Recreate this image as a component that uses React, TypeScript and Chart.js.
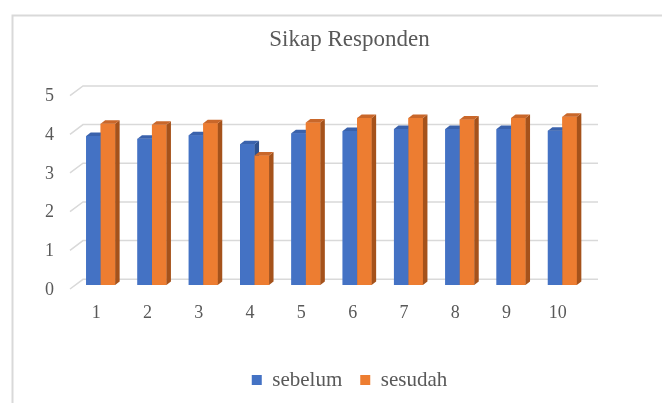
import React, { useEffect, useRef } from "react";
import { Chart, registerables } from "chart.js";

Chart.register(...registerables);

const categories = ["1", "2", "3", "4", "5", "6", "7", "8", "9", "10"];
const sebelum = [3.85, 3.78, 3.87, 3.64, 3.92, 3.98, 4.03, 4.03, 4.03, 3.99];
const sesudah = [4.17, 4.14, 4.18, 3.35, 4.2, 4.32, 4.32, 4.28, 4.32, 4.35];
const seriesNames = ["sebelum", "sesudah"];
const yTicks = [0, 1, 2, 3, 4, 5];
const chartTitle = "Sikap Responden";

const FONT = '"Liberation Serif", "Times New Roman", serif';
const TEXT = "#595959";
const GRID = "#d9d9d9";
const faces = [
  { front: "#4472C4", side: "#2F528F", top: "#3A62AC" },
  { front: "#ED7D31", side: "#A5521B", top: "#C9672A" },
];

const CW = 683;
const CH = 395;

const framePlugin = {
  id: "frame",
  beforeDraw(chart: any) {
    const ctx = chart.ctx;
    ctx.save();
    ctx.strokeStyle = GRID;
    ctx.lineWidth = 2;
    ctx.strokeRect(4.5, 7.5, 1000, 1000);
    ctx.restore();
  },
};

const grid3dPlugin = {
  id: "grid3d",
  beforeDatasetsDraw(chart: any) {
    const { ctx, chartArea } = chart;
    const ys = chart.scales.y;
    ctx.save();
    ctx.strokeStyle = GRID;
    ctx.lineWidth = 1.5;
    yTicks.forEach((v) => {
      const y = ys.getPixelForValue(v);
      ctx.beginPath();
      ctx.moveTo(chartArea.left - 5, y + 4);
      ctx.lineTo(chartArea.left + 8, y - 5.7);
      ctx.lineTo(chartArea.right + 10, y - 5.7);
      ctx.stroke();
    });
    ctx.restore();
  },
};

const bar3dPlugin = {
  id: "bar3d",
  afterDatasetsDraw(chart: any) {
    const ctx = chart.ctx;
    const n = chart.data.labels.length;
    const dx = 4.5;
    const dy = 3.5;
    ctx.save();
    for (let i = 0; i < n; i++) {
      chart.data.datasets.forEach((_: any, d: number) => {
        const el = chart.getDatasetMeta(d).data[i];
        if (!el) return;
        const { x, y, base, width } = el.getProps(["x", "y", "base", "width"], true);
        const l = x - width / 2;
        const r = x + width / 2;
        const f = faces[d];
        ctx.fillStyle = f.front;
        ctx.fillRect(l, y, width, base - y);
        ctx.fillStyle = f.side;
        ctx.beginPath();
        ctx.moveTo(r, y);
        ctx.lineTo(r + dx, y - dy);
        ctx.lineTo(r + dx, base - dy);
        ctx.lineTo(r, base);
        ctx.closePath();
        ctx.fill();
        ctx.fillStyle = f.top;
        ctx.beginPath();
        ctx.moveTo(l, y);
        ctx.lineTo(l + dx, y - dy);
        ctx.lineTo(r + dx, y - dy);
        ctx.lineTo(r, y);
        ctx.closePath();
        ctx.fill();
      });
    }
    ctx.restore();
  },
};

export default function App() {
  const ref = useRef<HTMLCanvasElement | null>(null);

  useEffect(() => {
    if (!ref.current) return;
    const chart = new Chart(ref.current, {
      type: "bar",
      data: {
        labels: categories,
        datasets: [
          {
            label: seriesNames[0],
            data: sebelum,
            backgroundColor: faces[0].front,
            borderWidth: 0,
            categoryPercentage: 0.565,
            barPercentage: 1,
          },
          {
            label: seriesNames[1],
            data: sesudah,
            backgroundColor: faces[1].front,
            borderWidth: 0,
            categoryPercentage: 0.565,
            barPercentage: 1,
          },
        ],
      },
      options: {
        responsive: false,
        animation: false,
        devicePixelRatio: 1,
        layout: { padding: { left: 0, right: 0, top: 0, bottom: 2.5 } },
        plugins: {
          title: {
            display: true,
            text: chartTitle,
            color: TEXT,
            font: { family: FONT, size: 23, weight: "normal" },
            padding: { top: 18, bottom: 38 },
          },
          legend: {
            position: "bottom",
            labels: {
              color: TEXT,
              font: { family: FONT, size: 21 },
              boxWidth: 10,
              boxHeight: 10,
              padding: 18,
            },
          },
          tooltip: { enabled: false },
        },
        scales: {
          x: {
            grid: { display: false, drawTicks: false },
            border: { display: false },
            ticks: {
              color: TEXT,
              font: { family: FONT, size: 18 },
              padding: 17,
              labelOffset: -4.5,
              maxRotation: 0,
            },
            afterFit: (s: any) => {
              s.height = 66.5;
            },
          },
          y: {
            min: 0,
            max: 5,
            grid: { display: false, drawTicks: false },
            border: { display: false },
            ticks: {
              stepSize: 1,
              color: TEXT,
              font: { family: FONT, size: 18 },
              padding: 21,
              labelOffset: 5,
            },
            afterFit: (s: any) => {
              s.width = 67;
            },
          },
          y2: {
            position: "right",
            display: true,
            grid: { display: false, drawTicks: false },
            border: { display: false },
            ticks: { display: false },
            afterFit: (s: any) => {
              s.width = 103;
            },
          },
        },
      },
      plugins: [framePlugin, grid3dPlugin, bar3dPlugin],
    } as any);
    return () => chart.destroy();
  }, []);

  return (
    <div style={{ width: 662, height: CH, overflow: "hidden" }}>
      <canvas ref={ref} width={CW} height={CH} style={{ width: CW, height: CH, display: "block" }} />
    </div>
  );
}
